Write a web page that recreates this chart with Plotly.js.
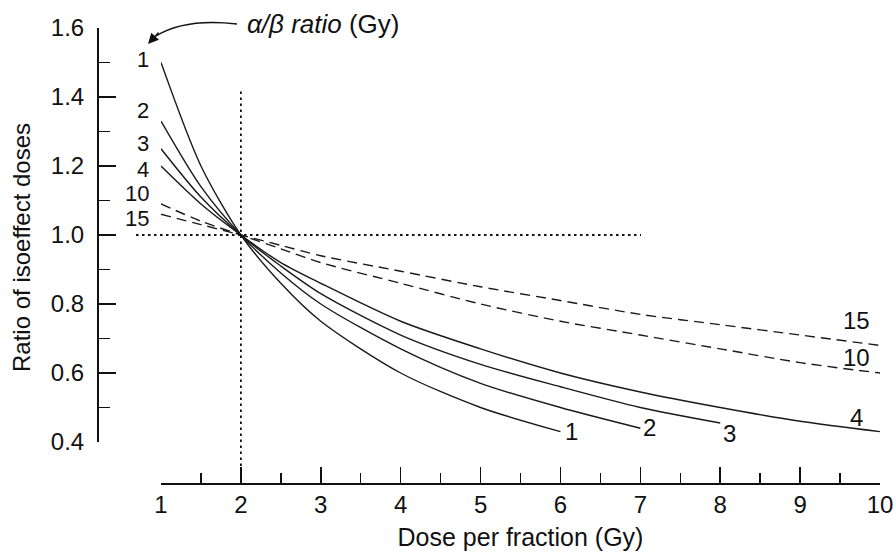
<!DOCTYPE html>
<html>
<head>
<meta charset="utf-8">
<script src="https://cdn.plot.ly/plotly-3.0.1.min.js"></script>
<style>
  html, body { margin: 0; padding: 0; background: #fff; }
  #chart { width: 896px; height: 556px; }
</style>
</head>
<body>
<div id="chart"></div>
<script>
// Ratio of isoeffect doses vs dose per fraction, for several alpha/beta ratios
const alphaBeta = ['1', '2', '3', '4', '10', '15'];

const dose1 = [1, 1.5, 2, 2.5, 3, 4, 5, 6];
const ratio1 = [1.50, 1.20, 1.00, 0.86, 0.75, 0.60, 0.50, 0.43];

const dose2 = [1, 1.5, 2, 2.5, 3, 4, 5, 6, 7];
const ratio2 = [1.33, 1.14, 1.00, 0.89, 0.80, 0.67, 0.57, 0.50, 0.44];

const dose3 = [1, 1.5, 2, 2.5, 3, 4, 5, 6, 7, 8];
const ratio3 = [1.25, 1.11, 1.00, 0.91, 0.83, 0.71, 0.625, 0.56, 0.50, 0.455];

const dose4 = [1, 1.5, 2, 2.5, 3, 4, 5, 6, 7, 8, 9, 10];
const ratio4 = [1.20, 1.09, 1.00, 0.92, 0.86, 0.75, 0.67, 0.60, 0.545, 0.50, 0.46, 0.43];

const dose10 = [1, 1.5, 2, 2.5, 3, 4, 5, 6, 7, 8, 9, 10];
const ratio10 = [1.09, 1.04, 1.00, 0.96, 0.92, 0.86, 0.80, 0.75, 0.71, 0.67, 0.63, 0.60];

const dose15 = [1, 1.5, 2, 2.5, 3, 4, 5, 6, 7, 8, 9, 10];
const ratio15 = [1.06, 1.03, 1.00, 0.97, 0.94, 0.895, 0.85, 0.81, 0.77, 0.74, 0.71, 0.68];

const xTicks = [1, 2, 3, 4, 5, 6, 7, 8, 9, 10];
const yTicks = [0.4, 0.6, 0.8, 1.0, 1.2, 1.4, 1.6];

// label positions
const leftLabelY = [1.51, 1.36, 1.265, 1.19, 1.12, 1.047];
const rightLabelX = [6.14, 7.11, 8.11, 9.70, 9.71, 9.71];
const rightLabelY = [0.429, 0.443, 0.426, 0.472, 0.645, 0.752];

const FONT = 'Liberation Sans, Arial, Helvetica, sans-serif';
const INK = '#111';
const FS = 24;

const doses = [dose1, dose2, dose3, dose4, dose10, dose15];
const ratios = [ratio1, ratio2, ratio3, ratio4, ratio10, ratio15];

const traces = alphaBeta.map((ab, i) => ({
  type: 'scatter',
  mode: 'lines',
  name: 'α/β = ' + ab + ' Gy',
  x: doses[i],
  y: ratios[i],
  line: {
    color: '#1a1a1a',
    width: 1.4,
    shape: 'spline',
    smoothing: 0.8,
    dash: (ab === '10' || ab === '15') ? '10px,6px' : 'solid'
  },
  hoverinfo: 'x+y+name'
}));

// Plot geometry helpers (paper coordinates)
const W = 896, H = 556;
const mL = 97, mR = 16, mT = 28, mB = 73;
const pw = W - mL - mR, ph = H - mT - mB;
const px = v => (v - mL) / pw;
const py = v => (H - mB - v) / ph;

const annotations = [];
alphaBeta.forEach((ab, i) => {
  annotations.push({
    xref: 'paper', yref: 'y', x: px(151), y: leftLabelY[i],
    text: ab, showarrow: false, xanchor: 'right', yanchor: 'middle',
    font: { family: FONT, size: 22, color: INK }
  });
  annotations.push({
    xref: 'x', yref: 'y', x: rightLabelX[i], y: rightLabelY[i],
    text: ab, showarrow: false, xanchor: 'center', yanchor: 'middle',
    font: { family: FONT, size: FS, color: INK }
  });
});

// legend-like title with arrow
annotations.push({
  xref: 'paper', yref: 'paper', x: px(245), y: py(24),
  text: '<i>α/β ratio</i> (Gy)', showarrow: false,
  xanchor: 'left', yanchor: 'middle',
  font: { family: FONT, size: 26, color: INK }
});
annotations.push({
  xref: 'paper', yref: 'paper', x: px(148), y: py(44),
  ax: 12, ay: -13, axref: 'pixel', ayref: 'pixel',
  text: '', showarrow: true, arrowhead: 2, arrowsize: 1.5, arrowwidth: 1.4, arrowcolor: INK
});

// y-axis title
annotations.push({
  xref: 'paper', yref: 'paper', x: px(22), y: py(248),
  text: 'Ratio of isoeffect doses', textangle: -90, showarrow: false,
  xanchor: 'center', yanchor: 'middle',
  font: { family: FONT, size: FS, color: INK }
});

const shapes = [
  // vertical dotted reference at 2 Gy
  { type: 'line', xref: 'x', yref: 'paper', x0: 2, x1: 2, y0: py(466), y1: py(89),
    line: { color: INK, width: 1.8, dash: '2.5px,3.5px' } },
  // horizontal dotted reference at ratio 1.0
  { type: 'line', xref: 'paper', yref: 'y', x0: px(136), x1: px(641), y0: 1.0, y1: 1.0,
    line: { color: INK, width: 1.8, dash: '2.5px,3.5px' } },
  // curved arrow stem
  { type: 'path', xref: 'paper', yref: 'paper',
    path: 'M ' + px(237) + ' ' + py(24) + ' Q ' + px(185) + ' ' + py(18) + ' ' + px(156) + ' ' + py(36),
    line: { color: INK, width: 1.4 } }
];

const layout = {
  width: W, height: H,
  margin: { l: mL, r: mR, t: mT, b: mB, pad: 0 },
  paper_bgcolor: '#fff', plot_bgcolor: '#fff',
  showlegend: false,
  font: { family: FONT, size: FS, color: INK },
  xaxis: {
    domain: [px(161), 1],
    anchor: 'free', position: 0,
    range: [1, 10],
    tickmode: 'array', tickvals: xTicks,
    ticks: 'inside', ticklen: 16, tickwidth: 1.5, tickcolor: INK,
    minor: { ticks: 'inside', dtick: 0.5, tick0: 1, ticklen: 10, tickwidth: 1.5, tickcolor: INK },
    showline: true, linecolor: INK, linewidth: 1.5,
    showgrid: false, zeroline: false,
    tickfont: { family: FONT, size: FS, color: INK },
    title: { text: 'Dose per fraction (Gy)', font: { family: FONT, size: 25, color: INK }, standoff: 11 }
  },
  yaxis: {
    domain: [py(442), 1],
    anchor: 'free', position: 0,
    range: [0.4, 1.6],
    tickmode: 'array', tickvals: yTicks, tickformat: '.1f',
    ticks: 'inside', ticklen: 17, tickwidth: 1.5, tickcolor: INK,
    minor: { ticks: 'inside', dtick: 0.1, tick0: 0.4, ticklen: 11, tickwidth: 1.5, tickcolor: INK },
    showline: true, linecolor: INK, linewidth: 1.5,
    showgrid: false, zeroline: false,
    tickfont: { family: FONT, size: FS, color: INK },
    ticklabelstandoff: 8
  },
  annotations: annotations,
  shapes: shapes
};

Plotly.newPlot('chart', traces, layout, { displayModeBar: false, staticPlot: true });
</script>
</body>
</html>
